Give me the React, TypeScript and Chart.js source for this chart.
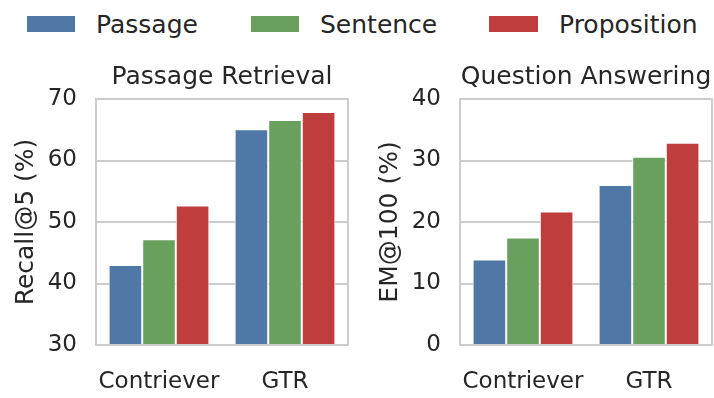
import React, { useEffect, useRef } from "react";
import { Chart, registerables } from "chart.js";

Chart.register(...registerables);

const FONT = "'DejaVu Sans', Verdana, sans-serif";
const TEXT = "#262626";
const GRID = "#cccccc";

const methods = ["Passage", "Sentence", "Proposition"];
const colors = ["#5078a6", "#69a05e", "#bf3d3d"];
const retrievers = ["Contriever", "GTR"];

// Passage Retrieval: Recall@5 (%)
const recallPassage = [43.0, 65.1];
const recallSentence = [47.2, 66.6];
const recallProposition = [52.7, 67.9];
const recallTicks = [30, 40, 50, 60, 70];

// Question Answering: EM@100 (%)
const emPassage = [13.9, 26.0];
const emSentence = [17.5, 30.6];
const emProposition = [21.7, 32.9];
const emTicks = [0, 10, 20, 30, 40];

const framePlugin = {
  id: "frame",
  afterDatasetsDraw(chart: any) {
    const { ctx, chartArea } = chart;
    const { left, top, right, bottom } = chartArea;
    ctx.save();
    ctx.strokeStyle = GRID;
    ctx.lineWidth = 2;
    ctx.strokeRect(left, top, right - left, bottom - top);
    ctx.restore();
  },
};

type PanelProps = {
  left: number;
  width: number;
  yAxisWidth: number;
  padRight: number;
  title: string;
  yTitle: string;
  yTitlePad: number;
  series: number[][];
  ticks: number[];
};

function Panel(props: PanelProps) {
  const ref = useRef<HTMLCanvasElement | null>(null);
  useEffect(() => {
    if (!ref.current) return;
    const { ticks } = props;
    const chart = new Chart(ref.current, {
      type: "bar",
      data: {
        labels: retrievers,
        datasets: methods.map((m, i) => ({
          label: m,
          data: props.series[i],
          backgroundColor: colors[i],
          borderColor: "#ffffff",
          borderWidth: 1,
          borderSkipped: "start",
          categoryPercentage: 0.8,
          barPercentage: 1.0,
        })),
      },
      options: {
        responsive: false,
        animation: false,
        devicePixelRatio: 1,
        layout: { padding: { top: 62, left: 0, right: props.padRight, bottom: 0 } },
        plugins: {
          legend: { display: false },
          tooltip: { enabled: false },
          title: {
            display: true,
            text: props.title,
            color: TEXT,
            fullSize: false,
            font: { family: FONT, size: 25, weight: "normal", lineHeight: 1.2 },
            padding: { top: 0, bottom: 7 },
          },
        },
        scales: {
          x: {
            grid: { display: false },
            border: { display: false },
            ticks: {
              color: TEXT,
              font: { family: FONT, size: 23 },
              padding: 15.5,
              maxRotation: 0,
              minRotation: 0,
              autoSkip: false,
            },
            afterFit: (s: any) => {
              s.height = 53;
            },
          },
          y: {
            min: ticks[0],
            max: ticks[ticks.length - 1],
            afterBuildTicks: (s: any) => {
              s.ticks = ticks.map((v) => ({ value: v }));
            },
            ticks: { color: TEXT, font: { family: FONT, size: 23 }, padding: 19 },
            grid: { color: GRID, lineWidth: 2, drawTicks: false },
            border: { display: false },
            title: {
              display: true,
              text: props.yTitle,
              color: TEXT,
              font: { family: FONT, size: 25, lineHeight: 1.2 },
              padding: { top: props.yTitlePad, bottom: 0 },
            },
            afterFit: (s: any) => {
              s.width = props.yAxisWidth;
            },
          },
        },
      },
      plugins: [framePlugin],
    } as any);
    return () => chart.destroy();
  }, []);
  return (
    <canvas
      ref={ref}
      width={props.width}
      height={398}
      style={{ position: "absolute", left: props.left, top: 0, width: props.width, height: 398 }}
    />
  );
}

const legendBoxes = [26.7, 250.7, 489];
const legendTexts = [96, 320, 559];

export default function App() {
  return (
    <div style={{ position: "absolute", left: 0, top: 0, width: 714, height: 398, background: "#fff", overflow: "hidden" }}>
      {methods.map((m, i) => (
        <React.Fragment key={m}>
          <div
            style={{
              position: "absolute",
              left: legendBoxes[i],
              top: 15.7,
              width: 48.6,
              height: 16,
              background: colors[i],
            }}
          />
          <div
            style={{
              position: "absolute",
              left: legendTexts[i],
              top: 12,
              fontFamily: FONT,
              fontSize: 25,
              lineHeight: "25px",
              color: TEXT,
              whiteSpace: "nowrap",
            }}
          >
            {m}
          </div>
        </React.Fragment>
      ))}
      <Panel
        left={0}
        width={357}
        yAxisWidth={96}
        padRight={9}
        title="Passage Retrieval"
        yTitle="Recall@5 (%)"
        yTitlePad={11}
        series={[recallPassage, recallSentence, recallProposition]}
        ticks={recallTicks}
      />
      <Panel
        left={357}
        width={357}
        yAxisWidth={103}
        padRight={2}
        title="Question Answering"
        yTitle="EM@100 (%)"
        yTitlePad={18}
        series={[emPassage, emSentence, emProposition]}
        ticks={emTicks}
      />
    </div>
  );
}
